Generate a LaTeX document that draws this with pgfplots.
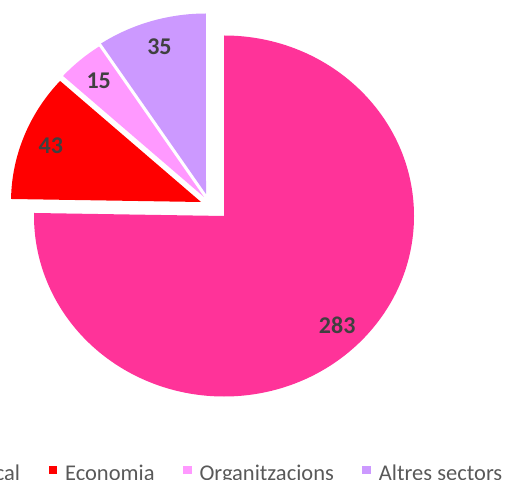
\documentclass[border=0pt]{standalone}
\usepackage{pgfplots}
\pgfplotsset{compat=1.18}
\usepackage{pgfplotstable}
\usepackage{fontspec}
\setmainfont{Carlito}
\definecolor{pie0}{HTML}{FF3399}
\definecolor{pie1}{HTML}{FF0000}
\definecolor{pie2}{HTML}{FF99FF}
\definecolor{pie3}{HTML}{CC99FF}
\definecolor{lbl}{HTML}{404040}
\definecolor{legtext}{HTML}{595959}

% value = slice size; dx, dy = explosion offset of the slice (px)
\pgfplotstableread{
name value dx dy
Local 283 0 0
Economia 43 -23 14
Organitzacions 15 -20 19
Altres 35 -18 22
}\piedata

\def\cx{224}\def\cy{263}\def\rx{190}\def\ry{180.5}

\begin{document}
\begin{tikzpicture}
\def\pietotal{0}
\pgfplotsforeachungrouped \i in {0,1,2,3}{%
  \pgfplotstablegetelem{\i}{value}\of\piedata
  \pgfmathsetmacro\pietotal{\pietotal+\pgfplotsretval}%
}
\def\piecur{90}
\pgfplotsforeachungrouped \i in {0,1,2,3}{%
  \pgfplotstablegetelem{\i}{value}\of\piedata
  \expandafter\xdef\csname pieV\i\endcsname{\pgfplotsretval}%
  \pgfmathsetmacro\piesweep{360*(\pgfplotsretval/\pietotal)}%
  \expandafter\xdef\csname pieS\i\endcsname{\piecur}%
  \pgfmathsetmacro\piestart{\piecur}%
  \pgfmathsetmacro\piecur{\piecur-\piesweep}%
  \expandafter\xdef\csname pieE\i\endcsname{\piecur}%
  \pgfmathsetmacro\piemid{\piecur+\piesweep/2}%
  \pgfplotstablegetelem{\i}{dx}\of\piedata
  \pgfmathsetmacro\pieTX{\cx+\pgfplotsretval}%
  \pgfplotstablegetelem{\i}{dy}\of\piedata
  \pgfmathsetmacro\pieTY{\cy+\pgfplotsretval}%
  \expandafter\xdef\csname pieX\i\endcsname{\pieTX}%
  \expandafter\xdef\csname pieY\i\endcsname{\pieTY}%
  \pgfmathsetmacro\pieAX{\pieTX+\rx*cos(\piestart)}%
  \pgfmathsetmacro\pieAY{\pieTY+\ry*sin(\piestart)}%
  \expandafter\xdef\csname pieAX\i\endcsname{\pieAX}%
  \expandafter\xdef\csname pieAY\i\endcsname{\pieAY}%
  \pgfmathsetmacro\pieLX{\pieTX+0.85*\rx*cos(\piemid)}%
  \pgfmathsetmacro\pieLY{\pieTY+0.85*\ry*sin(\piemid)}%
  \expandafter\xdef\csname pieLX\i\endcsname{\pieLX}%
  \expandafter\xdef\csname pieLY\i\endcsname{\pieLY}%
}
\begin{axis}[
  at={(0,0)}, anchor=south west,
  scale only axis, width=508pt, height=479pt,
  xmin=0, xmax=508, ymin=0, ymax=479,
  hide axis, clip=false,
  legend columns=4,
  legend style={draw=none, fill=none, inner sep=0pt, outer sep=0pt,
    at={(axis cs:-43,-3)}, anchor=south west,
    font=\fontsize{22.5}{27}\selectfont, text=legtext,
    nodes={inner sep=0pt},
    /tikz/every odd column/.append style={column sep=8pt},
    /tikz/every even column/.append style={column sep=28.5pt}},
  legend image code/.code={\fill[#1] (0pt,-1pt) rectangle (8.5pt,7.5pt);},
]
\pgfplotsinvokeforeach{0,1,2,3}{
  \fill[fill=pie#1] (axis cs:\csname pieX#1\endcsname,\csname pieY#1\endcsname)
    -- (axis cs:\csname pieAX#1\endcsname,\csname pieAY#1\endcsname)
    arc[start angle=\csname pieS#1\endcsname, end angle=\csname pieE#1\endcsname,
        x radius=\rx pt, y radius=\ry pt] -- cycle;
  \node[font=\fontsize{24}{28}\selectfont\bfseries, text=lbl]
    at (axis cs:\csname pieLX#1\endcsname,\csname pieLY#1\endcsname) {\csname pieV#1\endcsname};
}
\addlegendimage{fill=pie0, draw=none}\addlegendentry{Local}
\addlegendimage{fill=pie1, draw=none}\addlegendentry{Economia}
\addlegendimage{fill=pie2, draw=none}\addlegendentry{Organitzacions}
\addlegendimage{fill=pie3, draw=none}\addlegendentry{Altres sectors}
\end{axis}
\pgfresetboundingbox
\path[use as bounding box] (0,0) rectangle (508pt,479pt);
\end{tikzpicture}
\end{document}
